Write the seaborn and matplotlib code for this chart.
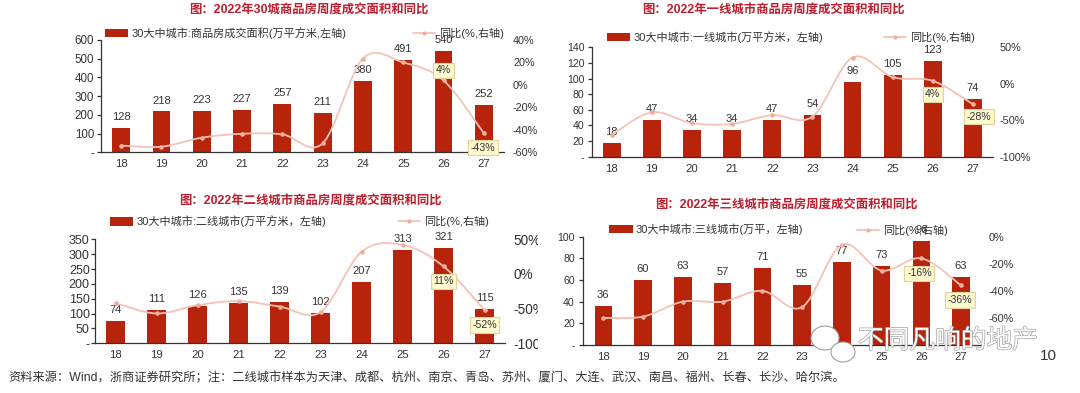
import numpy as np
import matplotlib
matplotlib.use("Agg")
import matplotlib.pyplot as plt
import seaborn as sns
from matplotlib.path import Path
from matplotlib.patches import PathPatch, Patch, Rectangle, Ellipse
from matplotlib.lines import Line2D
from matplotlib.ticker import FuncFormatter
import matplotlib.patheffects as pe

# ---------------- data ----------------
weeks = ["18", "19", "20", "21", "22", "23", "24", "25", "26", "27"]

area_30 = [128, 218, 223, 227, 257, 211, 380, 491, 540, 252]
yoy_30 = [-54, -55, -47, -43.5, -44, -52, 23.5, 20, 4, -43]

area_t1 = [18, 47, 34, 34, 47, 54, 96, 105, 123, 74]
yoy_t1 = [-70, -39, -54, -55, -43, -45, 36, 9, 4, -28]

area_t2 = [74, 111, 126, 135, 139, 102, 207, 313, 321, 115]
yoy_t2 = [-42, -57, -45, -39, -47, -55, 32, 42, 11, -52]

area_t3 = [36, 60, 63, 57, 71, 55, 77, 73, 96, 63]
yoy_t3 = [-60, -59, -48, -48, -40, -52, -6, -25, -16, -36]

titles = [
    "图：2022年30城商品房周度成交面积和同比",
    "图：2022年一线城市商品房周度成交面积和同比",
    "图：2022年二线城市商品房周度成交面积和同比",
    "图：2022年三线城市商品房周度成交面积和同比",
]
bar_names = [
    "30大中城市:商品房成交面积(万平方米,左轴)",
    "30大中城市:一线城市(万平方米，左轴)",
    "30大中城市:二线城市(万平方米，左轴)",
    "30大中城市:三线城市(万平，左轴)",
]
line_name = "同比(%,右轴)"

left_ticks = [
    [0, 100, 200, 300, 400, 500, 600],
    [0, 20, 40, 60, 80, 100, 120, 140],
    [0, 50, 100, 150, 200, 250, 300, 350],
    [0, 20, 40, 60, 80, 100],
]
right_ticks = [
    [-60, -40, -20, 0, 20, 40],
    [-100, -50, 0, 50],
    [-100, -50, 0, 50],
    [-60, -40, -20, 0],
]
right_lims = [(-60, 40), (-100, 50), (-100, 50), (-80, 0)]

footer = ("资料来源：Wind，浙商证券研究所；注：二线城市样本为天津、成都、杭州、南京、青岛、苏州、"
          "厦门、大连、武汉、南昌、福州、长春、长沙、哈尔滨。")

# ---------------- style ----------------
BAR = "#B8230B"
LINE = "#F5C2B6"
MARK = "#F0AE9F"
TITLE = "#BE1E2D"
TXT = "#333333"

sns.set_theme(style="white")
plt.rcParams["font.family"] = ["Liberation Sans", "Noto Sans CJK SC", "DejaVu Sans"]
plt.rcParams["axes.unicode_minus"] = False

W, H = 1080, 393
fig = plt.figure(figsize=(W / 100, H / 100), dpi=100)
fig.patch.set_facecolor("white")


def fx(x):
    return x / W


def fy(y):
    return 1 - y / H


def px2pt(p):
    return p * 0.72


def smooth_path(xs, ys):
    pts = np.column_stack([xs, ys]).astype(float)
    n = len(pts)
    verts = [pts[0]]
    codes = [Path.MOVETO]
    for i in range(n - 1):
        p0 = pts[i - 1] if i > 0 else pts[i]
        p1 = pts[i]
        p2 = pts[i + 1]
        p3 = pts[i + 2] if i + 2 < n else pts[i + 1]
        verts += [p1 + (p2 - p0) / 6, p2 - (p3 - p1) / 6, p2]
        codes += [Path.CURVE4] * 3
    return Path(verts, codes)


# layout per panel (pixels)
panels = [
    dict(area=area_30, yoy=yoy_30, rect=(101, 40, 504, 152.3), lsize=8.3, lpad=2.0, rpad=9,
         rsize=7.8, title_xy=(309, 11), leg_bar=(105, 33), leg_line=(413, 33),
         notes=[(8, 0, 10), (9, -1, -14.5)]),
    dict(area=area_t1, yoy=yoy_t1, rect=(591.7, 47.3, 993, 156.7), lsize=7.6, lpad=2.2, rpad=7,
         rsize=7.8, title_xy=(773, 10.7), leg_bar=(606.7, 37), leg_line=(884, 37.5),
         notes=[(8, 0, -13.5), (9, 6, -12.5)]),
    dict(area=area_t2, yoy=yoy_t2, rect=(95, 239.3, 505, 343.3), lsize=9.0, lpad=0.8, rpad=8,
         rsize=9.8, title_xy=(310, 201.7), leg_bar=(110, 221.5), leg_line=(397.7, 221.5),
         notes=[(8, 0, -15), (9, 0, -15)]),
    dict(area=area_t3, yoy=yoy_t3, rect=(583.4, 236.7, 981, 345), lsize=7.6, lpad=3.2, rpad=8,
         rsize=7.8, title_xy=(786, 205.7), leg_bar=(609.3, 229.5), leg_line=(856.8, 230),
         notes=[(8, -2, -15), (9, -1, -14.6)]),
]

pos = np.arange(len(weeks))

for k, p in enumerate(panels):
    l, t, r, b = p["rect"]
    ax = fig.add_axes([fx(l), fy(b), (r - l) / W, (b - t) / H])
    sns.barplot(x=weeks, y=p["area"], ax=ax, color=BAR, width=0.44,
                saturation=1, linewidth=0, order=weeks)
    ax.set_xlim(-0.5, len(weeks) - 0.5)
    ax.set_ylim(left_ticks[k][0], left_ticks[k][-1])
    ax.set_yticks(left_ticks[k])
    ax.yaxis.set_major_formatter(FuncFormatter(lambda v, _: "-" if v == 0 else f"{v:g}"))
    ax.set_xlabel("")
    ax.set_ylabel("")
    for s in ["top", "right"]:
        ax.spines[s].set_visible(False)
    for s in ["left", "bottom"]:
        ax.spines[s].set_color(TXT)
        ax.spines[s].set_linewidth(0.9)
    ax.set_xticks(pos)
    ax.set_xticklabels(weeks)
    ax.set_xticks(np.arange(-0.5, len(weeks), 1), minor=True)
    ax.tick_params(axis="x", which="major", length=0, pad=5, labelsize=8.2, labelcolor=TXT)
    ax.tick_params(axis="x", which="minor", length=3.5, width=0.9, color=TXT, direction="out")
    ax.tick_params(axis="y", which="major", left=True, length=3, width=0.9, color=TXT,
                   direction="out", pad=p["lpad"], labelsize=p["lsize"], labelcolor=TXT)
    ax.bar_label(ax.containers[0], labels=[f"{v:g}" for v in p["area"]], padding=4.3,
                 fontsize=8, color=TXT)

    ax2 = ax.twinx()
    ax2.set_ylim(*right_lims[k])
    ax2.set_yticks(right_ticks[k])
    ax2.yaxis.set_major_formatter(FuncFormatter(lambda v, _: f"{v:g}%"))
    for s in ax2.spines.values():
        s.set_visible(False)
    ax2.tick_params(axis="y", length=0, pad=px2pt(p["rpad"]),
                    labelsize=p["rsize"], labelcolor=TXT)
    ax2.add_patch(PathPatch(smooth_path(pos, p["yoy"]), fill=False, edgecolor=LINE,
                            linewidth=1.3, zorder=2))
    sns.scatterplot(x=pos, y=p["yoy"], ax=ax2, color=MARK, s=11, linewidth=0,
                    zorder=3, legend=False)
    ax2.set_xlim(-0.5, len(weeks) - 0.5)
    ax2.set_ylabel("")
    for idx, dx, dy in p["notes"]:
        v = p["yoy"][idx]
        ax2.annotate(f"{v:g}%", xy=(pos[idx], v),
                     xytext=(px2pt(dx), px2pt(dy)), textcoords="offset points",
                     ha="center", va="center", fontsize=7.6, color=TXT, zorder=5,
                     bbox=dict(boxstyle="square,pad=0.25", fc="#FFF9CF", ec="#E4D49C", lw=0.8))

    # title
    fig.text(fx(p["title_xy"][0]), fy(p["title_xy"][1]), titles[k], ha="center",
             va="center", fontsize=8.9, fontweight="bold", color=TITLE,
             family=["Liberation Sans", "Noto Sans CJK SC"])
    # legends
    fig.legend(handles=[Patch(facecolor=BAR, edgecolor="none", label=bar_names[k])],
               loc="center left", bbox_to_anchor=(fx(p["leg_bar"][0]), fy(p["leg_bar"][1])),
               frameon=False, borderpad=0, borderaxespad=0, handlelength=2.1,
               handleheight=0.75, handletextpad=0.3, fontsize=8, labelcolor=TXT)
    fig.legend(handles=[Line2D([], [], color=LINE, lw=1.3, marker="o", markersize=3,
                               markerfacecolor=MARK, markeredgewidth=0, label=line_name)],
               loc="center left", bbox_to_anchor=(fx(p["leg_line"][0]), fy(p["leg_line"][1])),
               frameon=False, borderpad=0, borderaxespad=0, handlelength=2.0,
               handletextpad=0.35, fontsize=8, labelcolor=TXT)

# clip the right-axis labels of the lower-left panel at the panel edge
fig.add_artist(Rectangle((fx(538), fy(353)), 15 / W, 125 / H, transform=fig.transFigure,
                         facecolor="white", edgecolor="none", zorder=50))

# footer & page number
fig.text(fx(8.6), fy(378), footer, ha="left", va="center", fontsize=8.8, color=TXT,
         family=["Liberation Sans", "Noto Sans CJK SC"])
fig.text(fx(1048), fy(356.5), "10", ha="center", va="center", fontsize=11, color=TXT)

# watermark
fig.add_artist(Ellipse((fx(825), fy(338)), 28 / W, 24 / H, transform=fig.transFigure,
                       facecolor="white", edgecolor="#A0A0A0", lw=0.8, zorder=60))
fig.add_artist(Ellipse((fx(843), fy(352)), 24 / W, 20 / H, transform=fig.transFigure,
                       facecolor="white", edgecolor="#A0A0A0", lw=0.8, zorder=61))
fig.text(fx(858), fy(341), "不同凡响的地产", ha="left", va="center", fontsize=18.5,
         color="white", zorder=70, family=["Noto Sans CJK SC"], fontweight="light",
         path_effects=[pe.withStroke(linewidth=0.9, foreground="#9A9A9A")])

fig.savefig("out.png", dpi=100, facecolor="white")
